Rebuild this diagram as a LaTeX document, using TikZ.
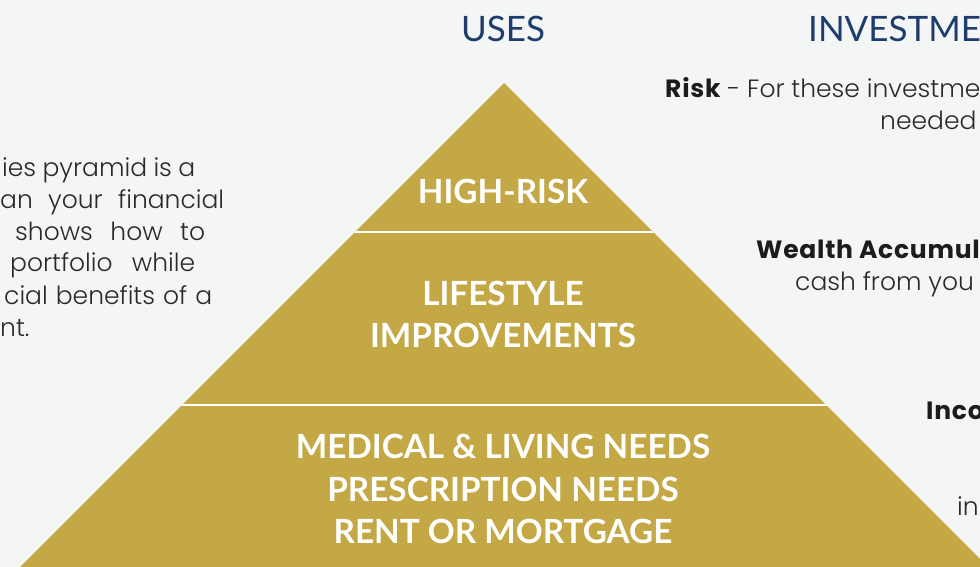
\documentclass[tikz,border=0pt]{standalone}
\usepackage{fontspec}
\setmainfont{Poppins}[UprightFont={* Light}, BoldFont={* Bold}, BoldFeatures={LetterSpace=3}]
\newfontfamily\titlefont{Lato}
\definecolor{bg}{HTML}{F4F6F5}
\definecolor{gold}{HTML}{C5A846}
\definecolor{navy}{HTML}{1E3D6E}
\definecolor{txt}{HTML}{2A2A2A}
\definecolor{boldtxt}{HTML}{1C1C1C}
\tikzset{
  title/.style={font=\titlefont\fontsize{35}{40}\selectfont, text=navy, inner sep=0pt},
  pyr/.style={font=\titlefont\bfseries\fontsize{33.3}{38}\selectfont, text=white, inner sep=0pt, anchor=base},
  body/.style={font=\fontsize{25}{29}\selectfont, text=txt, inner sep=0pt},
  sep/.style={white, line width=2.5pt}
}
\begin{document}
\begin{tikzpicture}[x=1pt,y=-1pt]
\fill[bg] (0,0) rectangle (980,567);
\useasboundingbox (0,0) rectangle (980,567);
\clip (0,0) rectangle (980,567);
% pyramid
\coordinate (apex) at (504,83);
\coordinate (bl) at (4,583);
\coordinate (br) at (1004,583);
\fill[gold] (apex) -- (br) -- (bl) -- cycle;
\begin{scope}
\clip (apex) -- (br) -- (bl) -- cycle;
\coordinate (s1l) at (300,232);
\coordinate (s1r) at (700,232);
\coordinate (s2l) at (100,405);
\coordinate (s2r) at (900,405);
\draw[sep] (s1l) -- (s1r);
\draw[sep] (s2l) -- (s2r);
\end{scope}
% titles
\node[title, anchor=base] (uses) at (503,42) {USES};
\node[title, anchor=base west] (inv) at (808,42) {INVESTME};
% pyramid labels
\node[pyr] (hr) at (503,203) {HIGH-RISK};
\node[pyr] (ls1) at (503,305) {LIFESTYLE};
\node[pyr] (ls2) at (503,347) {IMPROVEMENTS};
\node[pyr] (m1) at (503,458) {MEDICAL \& LIVING NEEDS};
\node[pyr] (m2) at (503,501) {PRESCRIPTION NEEDS};
\node[pyr] (m3) at (503,543) {RENT OR MORTGAGE};
% left text
\node[body, anchor=base west] (l1) at (2,176) {\makebox[193pt][s]{ies pyramid is a}};
\node[body, anchor=base west] (l2) at (0,208) {\makebox[224pt][s]{an your financial}};
\node[body, anchor=base west] (l3) at (15,240) {\makebox[190pt][s]{shows how to}};
\node[body, anchor=base west] (l4) at (10,271) {\makebox[185pt][s]{portfolio while}};
\node[body, anchor=base west] (l5) at (4,304) {\makebox[208pt][s]{cial benefits of a}};
\node[body, anchor=base west] (l6) at (0,336) {nt.};
% right text
\node[body, anchor=base west] (r1) at (665,98) {{\color{boldtxt}\bfseries Risk} - For these investme};
\node[body, anchor=base west] (r2) at (880,130) {needed};
\node[body, anchor=base west] (r3) at (756,258) {{\color{boldtxt}\bfseries Wealth Accumul}};
\node[body, anchor=base west] (r4) at (795,290) {cash from you};
\node[body, anchor=base west] (r5) at (926,419) {{\color{boldtxt}\bfseries Inco}};
\node[body, anchor=base west] (r6) at (957,515) {in};
\end{tikzpicture}
\end{document}
